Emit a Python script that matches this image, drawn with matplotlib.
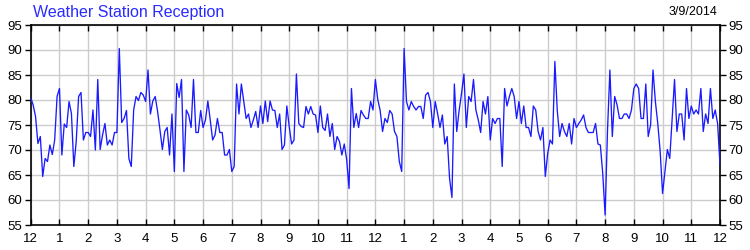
import numpy as np
import matplotlib.pyplot as plt

# Use an Arial-like font
plt.rcParams["font.family"] = "Liberation Sans"

# Readings every 5 minutes over one day (289 samples, midnight to midnight)
reception = [
    80.5, 79, 76.7, 71.3, 72.7, 64.7, 68.3, 67.7, 71, 69.1, 72, 80.7,
    82.3, 69, 75.2, 74.5, 79.7, 77.3, 66.7, 71.7, 80.7, 81.5, 72, 73.5,
    73.5, 72.7, 78, 70, 84.1, 70.1, 73, 75.3, 71, 72, 71, 73.5,
    73.5, 90.3, 75.5, 76.3, 77.9, 68.3, 66.7, 78, 80.7, 79.9, 81.5, 81,
    79.7, 86, 77.2, 79.8, 80.7, 77.7, 74, 70.1, 73.7, 74.5, 69, 77.2,
    65.7, 83.3, 80.5, 84.1, 65.7, 78, 77, 74.5, 84.1, 73.5, 73.5, 77.9,
    74.5, 76, 79.8, 76, 72, 73, 76.3, 73.5, 73.5, 69, 69, 70.1,
    65.7, 66.7, 83.2, 77.2, 83.2, 79.7, 76.3, 77.2, 74.5, 76, 77.7, 74.5,
    78.8, 75.3, 79.8, 75.7, 79.8, 78, 77.9, 74.5, 77.2, 70.1, 71, 78.8,
    74.7, 71.2, 72, 85.2, 75.3, 74.7, 74.5, 78.7, 77.2, 78.7, 77.2, 77,
    73.5, 78.8, 74.5, 73.9, 77.2, 72.7, 75.3, 70.1, 72.7, 71.7, 69, 71.2,
    68.1, 62.3, 82.3, 74.5, 77.3, 74.5, 77.9, 77, 76.3, 76.3, 79.7, 78,
    84.1, 80.1, 77.9, 73.7, 76.3, 75.5, 77.9, 77.2, 73.7, 72.7, 67.7, 65.7,
    90.3, 79.7, 78, 79.7, 78.7, 78, 78.7, 78.7, 76.3, 81, 81.5, 79.7,
    74.5, 79.7, 77.3, 74.5, 77, 71.2, 72.7, 64.3, 60.5, 83.2, 73.7, 77.9,
    81.3, 85.2, 74.5, 80.7, 79.7, 84.1, 78, 76, 73.5, 79.7, 77.2, 80.7,
    72, 76.3, 75.3, 76.3, 76.3, 66.7, 82.3, 78.8, 80.7, 82.3, 80.7, 76.3,
    79.7, 75.3, 78.8, 74.5, 74.5, 72.7, 78.8, 78, 73.7, 72, 74.5, 64.7,
    69.3, 72, 71.2, 87.7, 77.9, 72.7, 75.3, 73.7, 72.7, 75.3, 71.2, 76.3,
    74.5, 75.3, 76, 77, 74.5, 73.5, 73.5, 73.5, 75.3, 71.2, 71, 65.3,
    57, 74, 86, 72.7, 80.7, 79, 76.3, 76.3, 77.2, 77.2, 76.3, 78,
    82.3, 83.2, 82.3, 76.3, 76.3, 83.2, 72.7, 75, 86, 79.7, 75.3, 69.7,
    61.3, 65.7, 70.1, 68.3, 76.3, 84.1, 73.7, 77.2, 77.2, 72, 82.3, 76.3,
    78.8, 77.2, 78, 77.2, 82.3, 73.7, 77.2, 75.3, 82.3, 76.3, 78, 75.3,
    67,
]
hours = np.arange(len(reception)) * 5 / 60.0

hour_labels = ['12', '1', '2', '3', '4', '5', '6', '7', '8', '9', '10', '11',
               '12', '1', '2', '3', '4', '5', '6', '7', '8', '9', '10', '11',
               '12']
y_ticks = [55, 60, 65, 70, 75, 80, 85, 90, 95]

title = 'Weather Station Reception'
date_text = '3/9/2014'

fig = plt.figure(figsize=(7.5, 2.5), dpi=100)
ax = fig.add_axes([0.041, 0.1, 0.919, 0.8])

ax.plot(hours, reception, color='#1a1aff', lw=0.95, zorder=3)

ax.set_xlim(0, 24)
ax.set_ylim(55, 95)
ax.set_xticks(range(25))
ax.set_xticklabels(hour_labels)
ax.set_yticks(y_ticks)

# Light grid behind the line
ax.grid(True, color='#cccccc', lw=1.0, zorder=0)
ax.set_axisbelow(True)

# Hour ticks point inward (top and bottom), value ticks point outward (both sides)
ax.tick_params(axis='x', direction='in', top=True, bottom=True, length=4,
               width=1, labelsize=9.5, pad=6)
ax.tick_params(axis='y', direction='out', left=True, right=True,
               labelleft=True, labelright=True, length=4, width=1,
               labelsize=9.5, pad=2)
for spine in ax.spines.values():
    spine.set_linewidth(1.2)

fig.text(0.044, 0.952, title, color='#2a2aff', fontsize=11.5, va='center',
         ha='left')
fig.text(0.957, 0.952, date_text, color='black', fontsize=9, va='center',
         ha='right')

fig.savefig('out.png', dpi=100)
